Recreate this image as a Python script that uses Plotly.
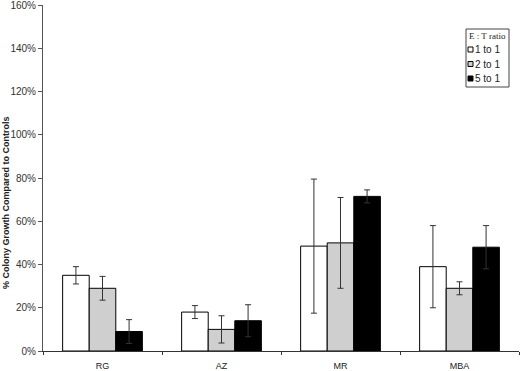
import plotly.graph_objects as go

categories = ["RG", "AZ", "MR", "MBA"]
series_names = ["1 to 1", "2 to 1", "5 to 1"]
values_1to1 = [35, 18, 48.5, 39]
values_2to1 = [29, 10, 50, 29]
values_5to1 = [9, 14, 71.5, 48]
err_1to1 = [4, 3, 31, 19]
err_2to1 = [5.5, 6.3, 21, 3]
err_5to1 = [5.5, 7.4, 3, 10]
fill_colors = ["white", "#cfcfcf", "black"]
y_ticks = [0, 20, 40, 60, 80, 100, 120, 140, 160]
y_tick_labels = [f"{v}%" for v in y_ticks]
legend_title = "E : T ratio"
y_title = "% Colony Growth Compared to Controls"

W, H = 520, 371
ML, MR, MT, MB = 43, 1, 5, 20
PW, PH = W - ML - MR, H - MT - MB


def px_x(px):
    return (px - ML) / PW


def px_y(py):
    return (H - MB - py) / PH


fig = go.Figure()
for name, vals, errs, col in zip(series_names,
                                 [values_1to1, values_2to1, values_5to1],
                                 [err_1to1, err_2to1, err_5to1],
                                 fill_colors):
    fig.add_trace(go.Bar(
        x=categories, y=vals, name=name, showlegend=False,
        marker=dict(color=col, line=dict(color="black", width=1)),
        error_y=dict(type="data", array=errs, visible=True,
                     color="#333333", thickness=1, width=3),
    ))

font_main = "Arial, 'Liberation Sans', sans-serif"
font_serif = "'Times New Roman', 'Liberation Serif', serif"

shapes = []
annotations = []
# legend box
shapes.append(dict(type="rect", xref="paper", yref="paper",
                   x0=px_x(466), x1=px_x(509), y0=px_y(87), y1=px_y(29),
                   line=dict(color="#444444", width=1), fillcolor="white"))
annotations.append(dict(text=legend_title, xref="paper", yref="paper",
                        x=px_x(487.5), y=px_y(36), showarrow=False,
                        font=dict(family=font_serif, size=9, color="#222222"),
                        xanchor="center", yanchor="middle"))
item_y = [49.5, 64, 78.5]
for name, col, iy in zip(series_names, fill_colors, item_y):
    shapes.append(dict(type="rect", xref="paper", yref="paper",
                       x0=px_x(468), x1=px_x(473), y0=px_y(iy + 2.5), y1=px_y(iy - 2.5),
                       line=dict(color="black", width=1), fillcolor=col))
    annotations.append(dict(text=name, xref="paper", yref="paper",
                            x=px_x(473), y=px_y(iy), showarrow=False,
                            font=dict(family=font_main, size=10, color="#222222"),
                            xanchor="left", yanchor="middle"))
annotations.append(dict(text=f"<b>{y_title}</b>", xref="paper", yref="paper",
                        x=px_x(6), y=px_y(203), showarrow=False, textangle=-90,
                        font=dict(family=font_main, size=9, color="#222222"),
                        xanchor="center", yanchor="middle"))

fig.update_layout(
    width=W, height=H,
    margin=dict(l=ML, r=MR, t=MT, b=MB, autoexpand=False),
    paper_bgcolor="white", plot_bgcolor="white",
    barmode="group", bargap=0.33, bargroupgap=0,
    font=dict(family=font_main, size=10, color="#222222"),
    showlegend=False,
    shapes=shapes, annotations=annotations,
    xaxis=dict(
        showline=True, linecolor="#333333", linewidth=1,
        ticks="outside", tickson="boundaries", ticklen=3, tickcolor="#333333",
        tickfont=dict(size=9), showgrid=False, automargin=False,
        ticklabelstandoff=6, ticklabeloverflow="allow",
    ),
    yaxis=dict(
        range=[0, 160], tickvals=y_ticks, ticktext=y_tick_labels,
        showline=True, linecolor="#555555", linewidth=1,
        ticks="outside", ticklen=4, tickcolor="#555555",
        tickfont=dict(size=10, color="#333333"), showgrid=False, zeroline=False,
        automargin=False, ticklabeloverflow="allow",
    ),
)

fig.write_html("out.html", config={"displayModeBar": False},
               post_script="document.body.style.margin='0';document.body.style.overflow='hidden';")
